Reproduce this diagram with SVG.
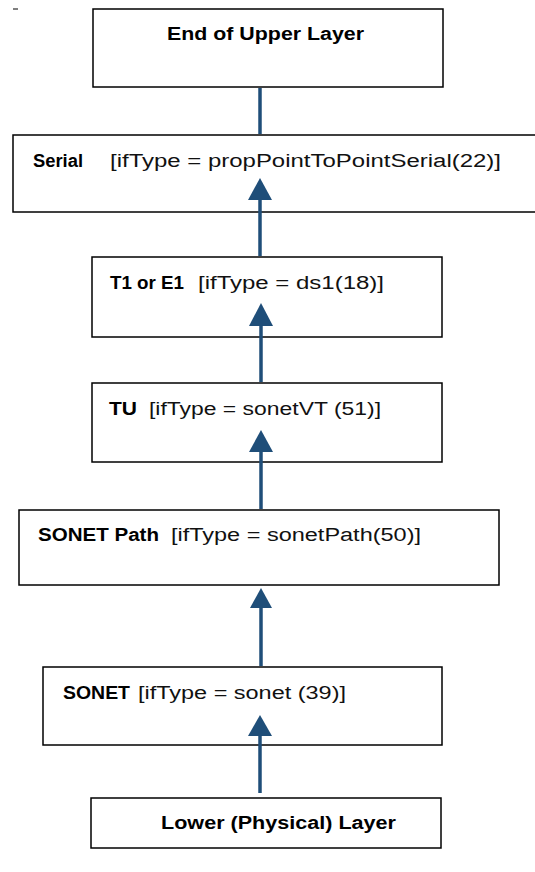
<svg xmlns="http://www.w3.org/2000/svg" width="535" height="872" viewBox="0 0 535 872">
<style>
.box{fill:#fff;stroke:#000;stroke-width:1.5}
.b{font-family:"Liberation Sans",Arial,sans-serif;font-weight:bold;font-size:18px;fill:#000}
.r{font-family:"Liberation Sans",Arial,sans-serif;font-size:18px;fill:#111}
.ln{stroke:#1F4E79;stroke-width:3.5;fill:none}
.hd{fill:#1F4E79}
</style>
<rect width="535" height="872" fill="#fff"/>
<line x1="13" y1="9" x2="18" y2="9" stroke="#000" stroke-width="1"/>
<g id="n1">
<rect class="box" x="93" y="9" width="350" height="78"/>
<text class="b" x="167" y="40" textLength="197" lengthAdjust="spacingAndGlyphs">End of Upper Layer</text>
</g>
<g id="n2">
<rect class="box" x="13" y="135" width="530" height="77"/>
<text class="b" x="33" y="167" textLength="50" lengthAdjust="spacingAndGlyphs">Serial</text>
<text class="r" x="110" y="167" textLength="391" lengthAdjust="spacingAndGlyphs">[ifType = propPointToPointSerial(22)]</text>
</g>
<g id="n3">
<rect class="box" x="92" y="257" width="350" height="80"/>
<text class="b" x="110" y="289" textLength="74" lengthAdjust="spacingAndGlyphs">T1 or E1</text>
<text class="r" x="198" y="289" textLength="186" lengthAdjust="spacingAndGlyphs">[ifType = ds1(18)]</text>
</g>
<g id="n4">
<rect class="box" x="92" y="383" width="350" height="79"/>
<text class="b" x="109" y="415" textLength="28" lengthAdjust="spacingAndGlyphs">TU</text>
<text class="r" x="149" y="415" textLength="232" lengthAdjust="spacingAndGlyphs">[ifType = sonetVT (51)]</text>
</g>
<g id="n5">
<rect class="box" x="19" y="510" width="480" height="75"/>
<text class="b" x="38" y="541" textLength="121" lengthAdjust="spacingAndGlyphs">SONET Path</text>
<text class="r" x="171" y="541" textLength="250" lengthAdjust="spacingAndGlyphs">[ifType = sonetPath(50)]</text>
</g>
<g id="n6">
<rect class="box" x="43" y="667" width="399" height="78"/>
<text class="b" x="63" y="699" textLength="67" lengthAdjust="spacingAndGlyphs">SONET</text>
<text class="r" x="138" y="699" textLength="208" lengthAdjust="spacingAndGlyphs">[ifType = sonet (39)]</text>
</g>
<g id="n7">
<rect class="box" x="91" y="798" width="350" height="50"/>
<text class="b" x="161" y="829" textLength="235" lengthAdjust="spacingAndGlyphs">Lower (Physical) Layer</text>
</g>
<g id="connectors">
<line class="ln" x1="260" y1="88" x2="260" y2="134"/>
<line class="ln" x1="260" y1="196" x2="260" y2="256"/>
<polygon class="hd" points="260,178 248,200 272,200"/>
<line class="ln" x1="261" y1="322" x2="261" y2="382"/>
<polygon class="hd" points="261,303 249,326 273,326"/>
<line class="ln" x1="261" y1="448" x2="261" y2="509"/>
<polygon class="hd" points="261,430 249,452 273,452"/>
<line class="ln" x1="261" y1="604" x2="261" y2="666"/>
<polygon class="hd" points="261,588 250,608 272,608"/>
<line class="ln" x1="260" y1="732" x2="260" y2="793"/>
<polygon class="hd" points="260,715 248,736 272,736"/>
</g>
</svg>
